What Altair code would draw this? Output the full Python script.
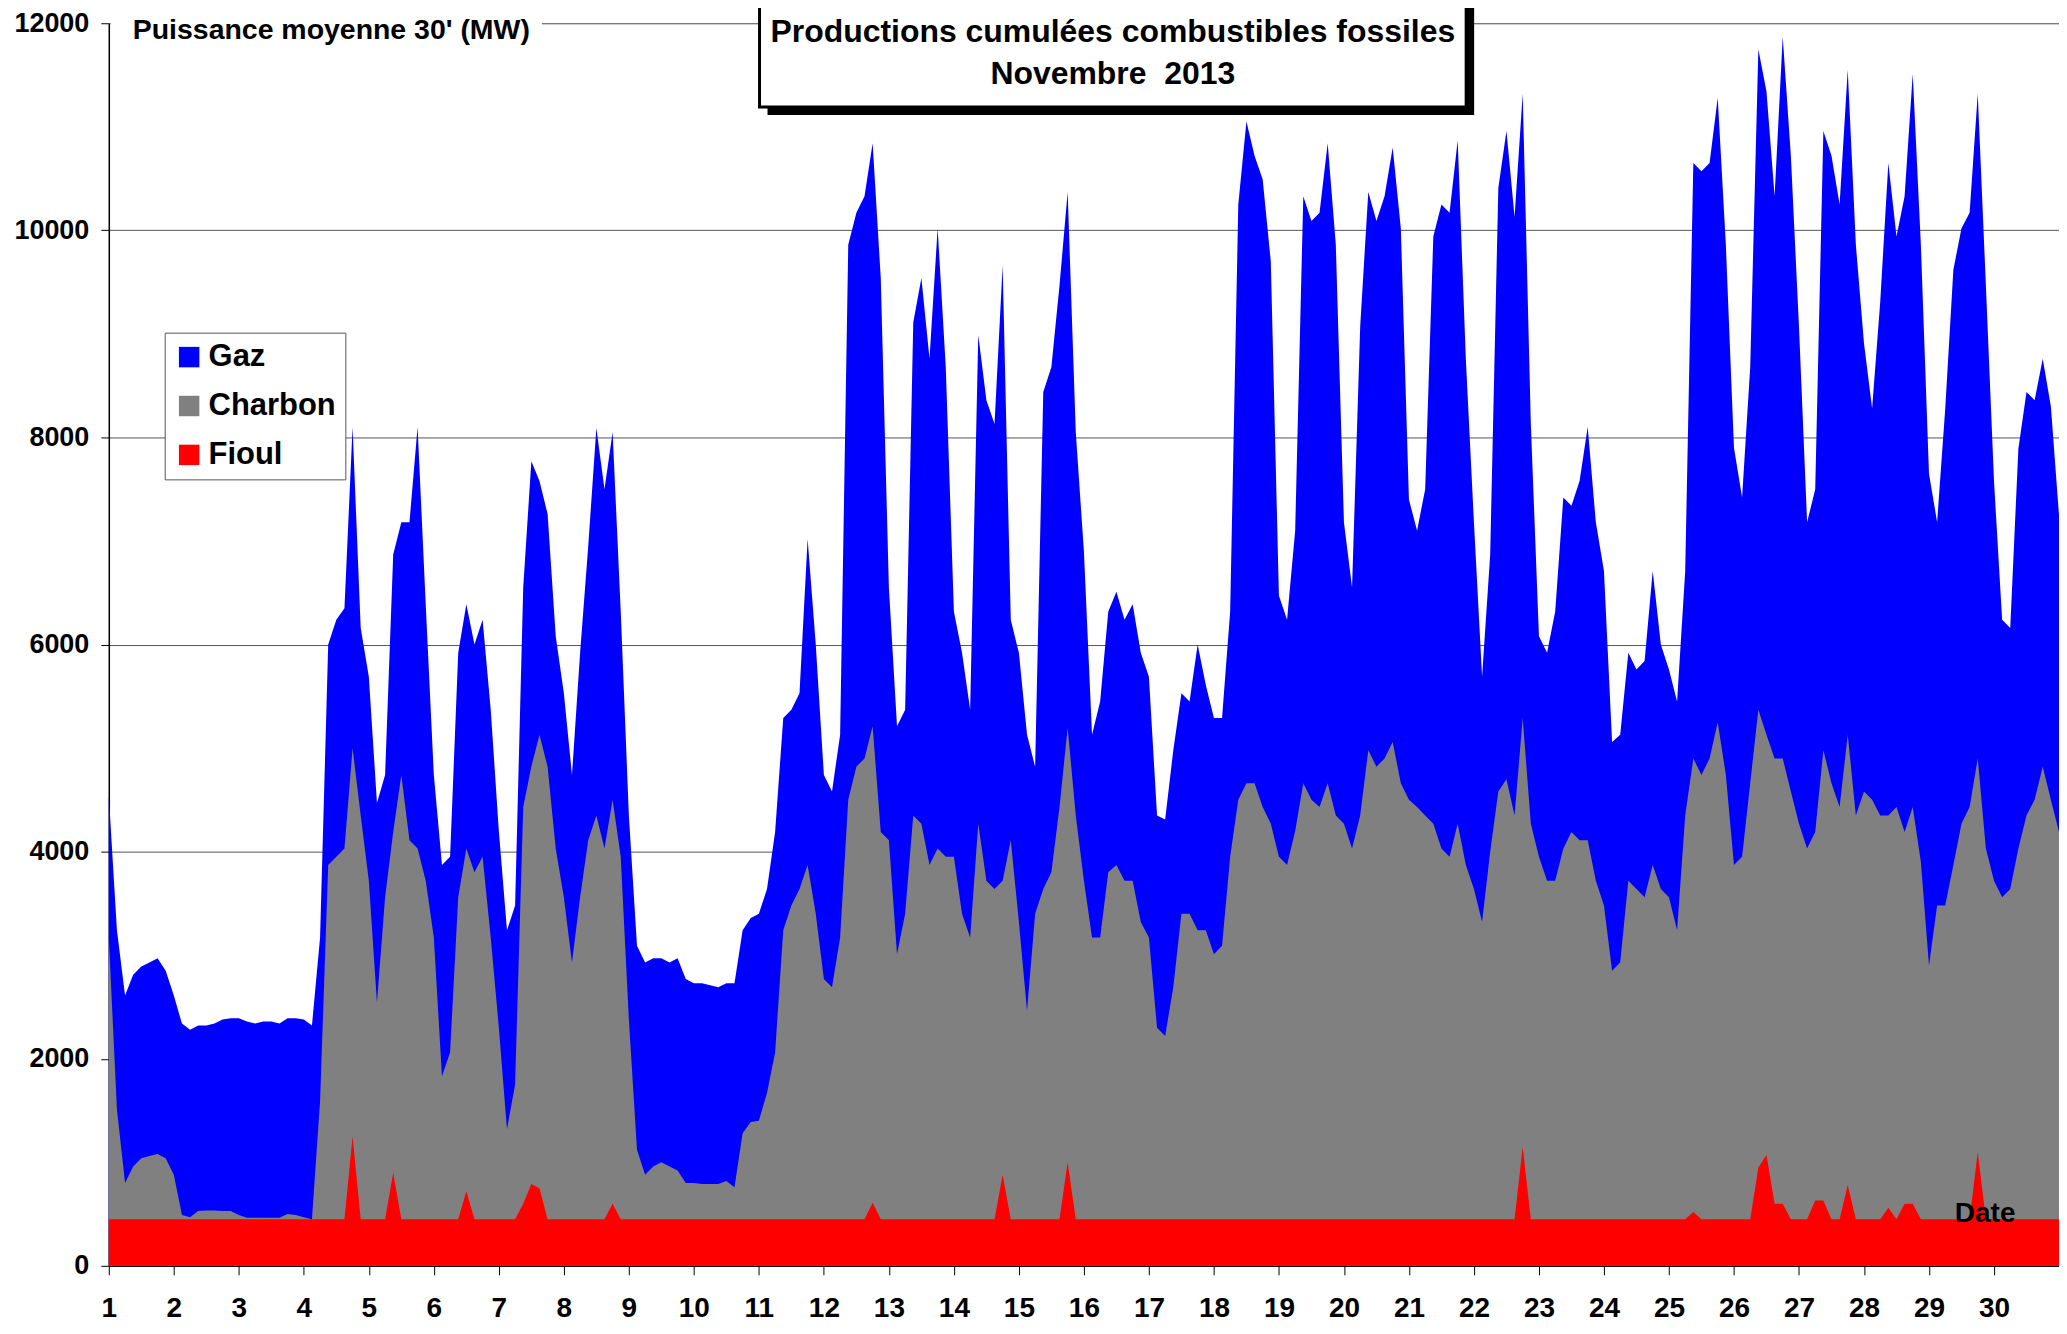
import altair as alt
import pandas as pd

# Half-hourly data read every 3 hours (0h,3h,...,21h) for each day of Nov 2013, plus 1 Dec 0h
STEP_HOURS = 3
SERIES = ["Gaz", "Charbon", "Fioul"]
COLORS = ["#0000FF", "#808080", "#FF0000"]

# cumulative top of the Gaz layer (= total fossil production, MW)
gaz_top = [
    4540, 3240, 2610, 2810, 2890, 2930, 2970, 2850,
    2610, 2340, 2280, 2320, 2320, 2340, 2380, 2390,
    2390, 2360, 2340, 2360, 2360, 2340, 2390, 2390,
    2380, 2320, 3170, 6000, 6240, 6350, 8100, 6160,
    5690, 4470, 4740, 6870, 7180, 7180, 8100, 6390,
    4740, 3870, 3950, 5920, 6390, 6000, 6240, 5370,
    4200, 3240, 3480, 6550, 7770, 7580, 7260, 6080,
    5530, 4740, 5920, 6950, 8090, 7500, 8050, 6320,
    4350, 3090, 2930, 2970, 2970, 2930, 2970, 2770,
    2730, 2730, 2710, 2690, 2730, 2730, 3240, 3360,
    3400, 3640, 4190, 5290, 5370, 5530, 7020, 6000,
    4740, 4580, 5130, 9860, 10170, 10330, 10840, 9540,
    6550, 5210, 5370, 9110, 9540, 8760, 10020, 8680,
    6320, 5920, 5370, 8990, 8360, 8130, 9660, 6240,
    5920, 5130, 4820, 8440, 8680, 9470, 10370, 8050,
    6900, 5130, 5450, 6320, 6510, 6240, 6390, 5920,
    5690, 4350, 4310, 4980, 5530, 5450, 6000, 5610,
    5290, 5290, 6320, 10250, 11050, 10720, 10490, 9700,
    6470, 6240, 7100, 10330, 10090, 10170, 10840, 9860,
    7180, 6550, 9070, 10370, 10090, 10330, 10800, 10020,
    7400, 7100, 7500, 9940, 10250, 10170, 10870, 8760,
    7180, 5690, 6870, 10410, 10960, 10130, 11320, 8130,
    6080, 5920, 6320, 7420, 7340, 7580, 8100, 7180,
    6710, 5060, 5130, 5920, 5760, 5840, 6710, 6000,
    5760, 5450, 6710, 10650, 10570, 10650, 11280, 9860,
    7900, 7420, 8680, 11750, 11340, 10330, 11870, 10720,
    9070, 7180, 7500, 10960, 10720, 10250, 11550, 9860,
    8910, 8280, 9310, 10650, 9940, 10330, 11510, 9860,
    7650, 7180, 8280, 9620, 10020, 10170, 11320, 9470,
    7580, 6240, 6160, 7890, 8440, 8360, 8760, 8300,
    7250,
]

# cumulative top of the Charbon layer (Charbon + Fioul, MW)
charbon_top = [
    3170, 1510, 800, 960, 1040, 1060, 1080, 1040,
    880, 490, 470, 530, 535, 535, 530, 530,
    490, 465, 465, 465, 465, 465, 500, 490,
    470, 450, 1590, 3870, 3950, 4030, 5000, 4350,
    3720, 2540, 3560, 4190, 4740, 4110, 4030, 3720,
    3170, 1830, 2060, 3560, 4030, 3800, 3950, 3170,
    2300, 1320, 1750, 4430, 4820, 5130, 4820, 4030,
    3560, 2930, 3560, 4110, 4350, 4030, 4500, 3950,
    2380, 1120, 880, 960, 1000, 960, 920, 800,
    800, 790, 790, 790, 820, 760, 1280, 1390,
    1400, 1670, 2060, 3240, 3480, 3640, 3870, 3400,
    2770, 2690, 3170, 4500, 4820, 4900, 5210, 4190,
    4110, 3010, 3400, 4350, 4270, 3870, 4030, 3950,
    3950, 3400, 3170, 4270, 3720, 3640, 3720, 4110,
    3320, 2460, 3400, 3640, 3800, 4430, 5200, 4350,
    3720, 3170, 3170, 3800, 3870, 3720, 3720, 3320,
    3170, 2300, 2220, 2690, 3400, 3400, 3240, 3240,
    3010, 3090, 3950, 4500, 4660, 4660, 4430, 4270,
    3950, 3870, 4200, 4660, 4500, 4430, 4660, 4350,
    4270, 4030, 4350, 4980, 4820, 4900, 5060, 4660,
    4500, 4430, 4350, 4270, 4030, 3950, 4270, 3870,
    3640, 3320, 4000, 4580, 4700, 4350, 5290, 4270,
    3950, 3720, 3720, 4030, 4190, 4110, 4110, 3720,
    3480, 2850, 2930, 3720, 3640, 3560, 3870, 3640,
    3560, 3240, 4350, 4900, 4740, 4900, 5250, 4740,
    3870, 3950, 4660, 5370, 5130, 4900, 4900, 4580,
    4270, 4030, 4190, 4980, 4660, 4430, 5130, 4350,
    4580, 4500, 4350, 4350, 4430, 4190, 4430, 3900,
    2900, 3480, 3480, 3870, 4270, 4430, 4900, 4030,
    3720, 3560, 3640, 4030, 4350, 4500, 4820, 4500,
    4190,
]

# Fioul (bottom layer, MW)
fioul_top = [
    450, 450, 450, 450, 450, 450, 450, 450,
    450, 450, 450, 450, 450, 450, 450, 450,
    450, 450, 450, 450, 450, 450, 450, 450,
    450, 450, 450, 450, 450, 450, 1250, 450,
    450, 450, 450, 900, 450, 450, 450, 450,
    450, 450, 450, 450, 720, 450, 450, 450,
    450, 450, 450, 600, 790, 750, 450, 450,
    450, 450, 450, 450, 450, 450, 600, 450,
    450, 450, 450, 450, 450, 450, 450, 450,
    450, 450, 450, 450, 450, 450, 450, 450,
    450, 450, 450, 450, 450, 450, 450, 450,
    450, 450, 450, 450, 450, 450, 610, 450,
    450, 450, 450, 450, 450, 450, 450, 450,
    450, 450, 450, 450, 450, 450, 880, 450,
    450, 450, 450, 450, 450, 450, 1000, 450,
    450, 450, 450, 450, 450, 450, 450, 450,
    450, 450, 450, 450, 450, 450, 450, 450,
    450, 450, 450, 450, 450, 450, 450, 450,
    450, 450, 450, 450, 450, 450, 450, 450,
    450, 450, 450, 450, 450, 450, 450, 450,
    450, 450, 450, 450, 450, 450, 450, 450,
    450, 450, 450, 450, 450, 450, 1150, 450,
    450, 450, 450, 450, 450, 450, 450, 450,
    450, 450, 450, 450, 450, 450, 450, 450,
    450, 450, 450, 520, 450, 450, 450, 450,
    450, 450, 450, 950, 1070, 600, 600, 450,
    450, 450, 630, 630, 450, 450, 780, 450,
    450, 450, 450, 560, 450, 600, 600, 450,
    450, 450, 450, 450, 450, 450, 1100, 450,
    450, 450, 450, 450, 450, 450, 450, 450,
    450,
]

x_tick_values = [1 + 0.5 * i for i in range(61)]
y_tick_values = [0, 2000, 4000, 6000, 8000, 10000, 12000]

FONT = "Liberation Sans"

jours = [1 + i * STEP_HOURS / 24 for i in range(len(gaz_top))]
rows = []
for name, vals in zip(SERIES, [gaz_top, charbon_top, fioul_top]):
    for j, v in zip(jours, vals):
        rows.append({"jour": j, "valeur": v, "serie": name})
df = pd.DataFrame(rows)

color = alt.Color(
    "serie:N",
    scale=alt.Scale(domain=SERIES, range=COLORS),
    sort=SERIES,
    legend=alt.Legend(
        title=None, orient="none", legendX=56, legendY=310,
        symbolType="square", symbolSize=420, symbolStrokeWidth=0, symbolOpacity=1,
        labelFontSize=31, labelFont=FONT, labelFontWeight="bold", labelColor="black",
        labelOffset=4, rowPadding=17, padding=9,
        strokeColor="#555555", fillColor="white",
    ),
)

x = alt.X(
    "jour:Q",
    scale=alt.Scale(domain=[1, 31], nice=False, zero=False),
    axis=alt.Axis(
        values=x_tick_values, title=None, grid=False, format="d",
        labelExpr="datum.value % 1 === 0 && datum.value < 31 ? datum.label : ''",
        labelFontSize=28, labelFont=FONT, labelFontWeight="bold", labelColor="black",
        labelPadding=20, labelFlush=False, labelOverlap=False, labelBound=False,
        tickSize=9, tickColor="black", domainColor="black", domainWidth=1.5,
    ),
)
y = alt.Y(
    "valeur:Q",
    scale=alt.Scale(domain=[0, 12000], nice=False),
    axis=alt.Axis(
        values=y_tick_values, format="d", title=None,
        grid=True, gridColor="#555555", gridWidth=1,
        labelFontSize=27, labelFont=FONT, labelFontWeight="bold", labelColor="black",
        labelPadding=12, tickSize=8, tickColor="black", domainColor="black", domainWidth=1.5,
    ),
)

layers = []
for name in SERIES:
    layers.append(
        alt.Chart(df)
        .transform_filter(alt.datum.serie == name)
        .mark_area(interpolate="linear", opacity=1)
        .encode(x=x, y=y, color=color)
    )

# mask for the 12000 gridline behind the axis title
mask = alt.Chart(pd.DataFrame({"a": [0]})).mark_rect(color="white").encode(
    x=alt.value(2), x2=alt.value(434), y=alt.value(-10), y2=alt.value(22)
)
ytitle = alt.Chart(pd.DataFrame({"t": ["Puissance moyenne 30' (MW)"]})).mark_text(
    font=FONT, fontWeight="bold", fontSize=28.5, align="left", baseline="middle", color="black"
).encode(text="t:N", x=alt.value(24), y=alt.value(7))

shadow = alt.Chart(pd.DataFrame({"a": [0]})).mark_rect(color="black").encode(
    x=alt.value(660), x2=alt.value(1368), y=alt.value(-16), y2=alt.value(92)
)
box = alt.Chart(pd.DataFrame({"a": [0]})).mark_rect(
    fill="white", stroke="black", strokeWidth=3
).encode(x=alt.value(652), x2=alt.value(1360), y=alt.value(-24), y2=alt.value(84))
title_lines = pd.DataFrame({
    "t": ["Productions cumulées combustibles fossiles", "Novembre \u00a02013"],
    "row": [0, 1],
})
title1 = alt.Chart(title_lines).transform_filter(alt.datum.row == 0).mark_text(
    font=FONT, fontWeight="bold", fontSize=32, align="center", baseline="middle", color="black"
).encode(text="t:N", x=alt.value(1006), y=alt.value(9))
title2 = alt.Chart(title_lines).transform_filter(alt.datum.row == 1).mark_text(
    font=FONT, fontWeight="bold", fontSize=32, align="center", baseline="middle", color="black"
).encode(text="t:N", x=alt.value(1006), y=alt.value(51))

date_label = alt.Chart(pd.DataFrame({"t": ["Date"]})).mark_text(
    font=FONT, fontWeight="bold", fontSize=28, align="center", baseline="middle", color="black"
).encode(text="t:N", x=alt.value(1880), y=alt.value(1193))

chart = alt.layer(
    *layers, mask, ytitle, shadow, box, title1, title2, date_label
).properties(
    width=1954, height=1245,
    autosize=alt.AutoSizeParams(type="none"),
    padding={"left": 101, "top": 14, "right": 0, "bottom": 55},
).configure_view(stroke=None).configure(background="white")

chart.save("out.html", embed_options={"renderer": "svg", "actions": False})
